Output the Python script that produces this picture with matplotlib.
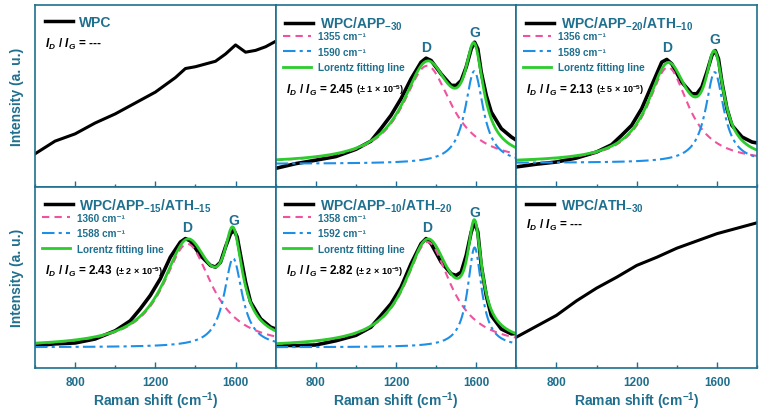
import numpy as np
import matplotlib
matplotlib.use("Agg")
import matplotlib.pyplot as plt
from matplotlib.lines import Line2D
from matplotlib.ticker import MultipleLocator

plt.rcParams['font.family'] = ['Liberation Sans', 'DejaVu Sans']
plt.rcParams['font.weight'] = 'bold'
plt.rcParams['mathtext.fontset'] = 'custom'
plt.rcParams['mathtext.rm'] = 'Liberation Sans:bold'
plt.rcParams['mathtext.it'] = 'Liberation Sans:bold:italic'
plt.rcParams['mathtext.bf'] = 'Liberation Sans:bold'

# colours
teal = '#1f6f8e'
pink = '#f0529f'
blue = '#1e8fe6'
green = '#2ccc2c'

# Raman shift sample points (cm-1)
shift = [600, 700, 800, 900, 1000, 1075, 1125, 1175, 1225, 1275, 1325, 1350, 1375,
         1425, 1475, 1500, 1525, 1550, 1575, 1592, 1608, 1625, 1650, 1675, 1725,
         1775, 1800]
shift_flat = [600, 700, 800, 900, 1000, 1100, 1200, 1300, 1350, 1400, 1500,
              1550, 1600, 1650, 1700, 1750, 1800]

# measured spectra (normalised intensity)
wpc = [0.18, 0.25, 0.29, 0.35, 0.40, 0.46, 0.52, 0.60, 0.65, 0.66, 0.69,
       0.73, 0.78, 0.74, 0.75, 0.77, 0.80]
ath30 = [0.17, 0.23, 0.29, 0.37, 0.44, 0.50, 0.565, 0.61, 0.635, 0.66, 0.70,
         0.72, 0.74, 0.755, 0.77, 0.785, 0.80]
app30 = [0.10, 0.126, 0.145, 0.165, 0.205, 0.25, 0.319, 0.392, 0.484, 0.593, 0.685,
         0.707, 0.694, 0.62, 0.557, 0.557, 0.584, 0.658, 0.758, 0.795, 0.758, 0.63,
         0.502, 0.41, 0.319, 0.273, 0.255]
app20_ath10 = [0.108, 0.123, 0.135, 0.157, 0.19, 0.23, 0.282, 0.337, 0.429, 0.557, 0.685,
               0.70, 0.676, 0.575, 0.511, 0.511, 0.548, 0.63, 0.722, 0.749, 0.703, 0.575,
               0.429, 0.337, 0.273, 0.245, 0.24]
app15_ath15 = [0.123, 0.133, 0.138, 0.16, 0.205, 0.26, 0.326, 0.40, 0.492, 0.611, 0.694,
               0.713, 0.70, 0.62, 0.565, 0.556, 0.583, 0.667, 0.74, 0.759, 0.722, 0.62,
               0.473, 0.363, 0.271, 0.225, 0.215]
app10_ath20 = [0.127, 0.123, 0.127, 0.15, 0.18, 0.225, 0.289, 0.354, 0.445, 0.574, 0.685,
               0.713, 0.685, 0.584, 0.519, 0.51, 0.528, 0.62, 0.749, 0.804, 0.749, 0.565,
               0.40, 0.289, 0.215, 0.188, 0.19]

# Lorentz fit parameters: baseline, D (centre, hwhm, height), G (centre, hwhm, height)
fit_base = [0.125, 0.13, 0.114, 0.114]
d_center = [1355, 1356, 1360, 1358]
d_hwhm = [150, 125, 150, 140]
d_height = [0.54, 0.527, 0.57, 0.58]
g_center = [1590, 1589, 1588, 1592]
g_hwhm = [55, 55, 55, 42]
g_height = [0.51, 0.50, 0.49, 0.55]
ratio_text = ['2.45', '2.13', '2.43', '2.82']
ratio_err = ['1', '5', '2', '2']
d_label_y = [0.77, 0.77, 0.777, 0.777]
g_label_y = [0.853, 0.81, 0.814, 0.86]

names = ['WPC', r'WPC/APP$_{-30}$', r'WPC/APP$_{-20}$/ATH$_{-10}$',
         r'WPC/APP$_{-15}$/ATH$_{-15}$', r'WPC/APP$_{-10}$/ATH$_{-20}$', r'WPC/ATH$_{-30}$']


def lorentz(x, c, g, a):
    return a / (1 + ((x - c) / g) ** 2)


fig, axes = plt.subplots(2, 3, figsize=(7.62, 4.14), dpi=100, sharex=True, sharey=True)
fig.subplots_adjust(left=35/762, right=757/762, top=1-6/414, bottom=1-369/414,
                    wspace=0, hspace=0)

xs = np.linspace(600, 1800, 600)
spectra = [wpc, app30, app20_ath10, app15_ath15, app10_ath20, ath30]
dash_d = (0, (3.5, 2.5))
dash_g = (0, (6, 2, 1.5, 2))

for k, ax in enumerate(axes.flat):
    ax.set_xlim(600, 1800)
    ax.set_ylim(0, 1)
    for s in ax.spines.values():
        s.set_color(teal)
        s.set_linewidth(1.2)
    ax.set_xticks([800, 1200, 1600])
    ax.xaxis.set_minor_locator(MultipleLocator(200))
    ax.tick_params(axis='x', which='both', direction='in', colors=teal,
                   labelsize=8.5, pad=6)
    ax.tick_params(axis='x', which='major', length=4, width=1)
    ax.tick_params(axis='x', which='minor', length=2.5, width=1)
    ax.tick_params(axis='y', left=False, labelleft=False)
    for lab in ax.get_xticklabels():
        lab.set_fontweight('bold')

    if k in (0, 5):
        ax.plot(shift_flat, spectra[k], color='black', lw=2.2, solid_joinstyle='round')
        handles = [Line2D([], [], color='black', lw=2.5)]
        leg = ax.legend(handles, [names[k]], loc='upper left', frameon=False,
                        handlelength=2.0, handletextpad=0.5, fontsize=10,
                        borderaxespad=0.3, bbox_to_anchor=(0.0, 1.0))
        for t in leg.get_texts():
            t.set_color(teal)
            t.set_fontweight('bold')
        ax.text(0.042, 0.79, r'$I_D\ /\ I_G$ = ---', transform=ax.transAxes,
                fontsize=8.5, fontweight='bold', va='center')
    else:
        i = k - 1
        ax.plot(shift, spectra[k], color='black', lw=2.6, solid_joinstyle='round')
        ld = fit_base[i] + lorentz(xs, d_center[i], d_hwhm[i], d_height[i])
        lg = fit_base[i] + lorentz(xs, g_center[i], g_hwhm[i], g_height[i])
        fit = fit_base[i] + lorentz(xs, d_center[i], d_hwhm[i], d_height[i]) + \
            lorentz(xs, g_center[i], g_hwhm[i], g_height[i])
        ax.plot(xs, ld, color=pink, lw=1.5, ls=dash_d)
        ax.plot(xs, lg, color=blue, lw=1.5, ls=dash_g)
        ax.plot(xs, fit, color=green, lw=2)

        # sample name on its own row, fitted components below it
        leg1 = ax.legend([Line2D([], [], color='black', lw=2.5)], [names[k]],
                         loc='upper left', frameon=False, handlelength=2.0,
                         handletextpad=0.5, fontsize=10, borderaxespad=0.3,
                         bbox_to_anchor=(0.0, 1.0))
        leg1.get_texts()[0].set_color(teal)
        ax.add_artist(leg1)
        handles = [Line2D([], [], color=pink, lw=1.5, ls=dash_d),
                   Line2D([], [], color=blue, lw=1.5, ls=dash_g),
                   Line2D([], [], color=green, lw=2)]
        labels = ['%d cm⁻¹' % d_center[i], '%d cm⁻¹' % g_center[i],
                  'Lorentz fitting line']
        leg2 = ax.legend(handles, labels, loc='upper left', frameon=False,
                         handlelength=2.8, handletextpad=0.7, fontsize=7.2,
                         labelspacing=0.55, borderaxespad=0.3,
                         bbox_to_anchor=(0.0, 0.895))
        for t in leg2.get_texts():
            t.set_color(teal)
            t.set_fontweight('bold')
        t1 = ax.text(0.042, 0.535, r'$I_D\ /\ I_G$ = ' + ratio_text[i],
                     transform=ax.transAxes, fontsize=8.5, fontweight='bold', va='center')
        ax.annotate(r' ($\pm$ %s $\times$ 10$^{-5}$)' % ratio_err[i], xy=(1, 0.5),
                    xycoords=t1, va='center', fontsize=6.5, fontweight='bold')
        ax.text(d_center[i] - 3, d_label_y[i], 'D', color=teal, fontsize=10,
                fontweight='bold', ha='center', va='center')
        ax.text(g_center[i] + 2, g_label_y[i], 'G', color=teal, fontsize=10,
                fontweight='bold', ha='center', va='center')

for ax in axes[1]:
    ax.set_xlabel('Raman shift (cm$^{-1}$)', color=teal, fontsize=10,
                  fontweight='bold', labelpad=1)
for ax in axes[:, 0]:
    ax.set_ylabel('Intensity (a. u.)', color=teal, fontsize=10,
                  fontweight='bold', labelpad=8)

fig.savefig('out.png', dpi=100)
